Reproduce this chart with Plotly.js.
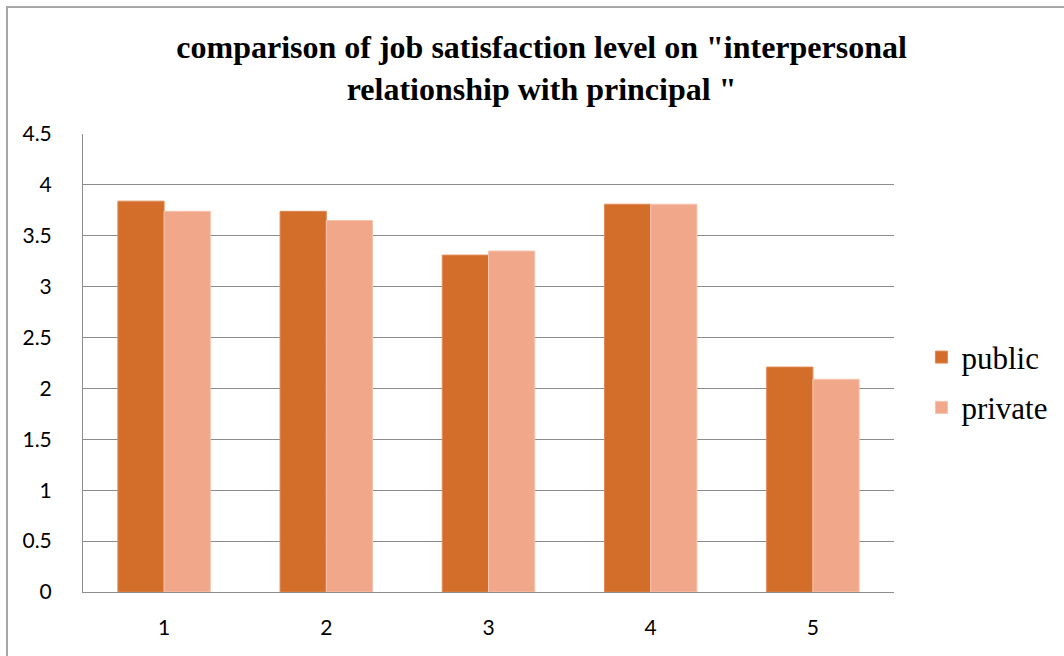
<!DOCTYPE html>
<html>
<head>
<meta charset="utf-8">
<script src="https://cdn.plot.ly/plotly-3.0.1.min.js"></script>
<style>
html,body{margin:0;padding:0;background:#fff;}
#chart{width:1064px;height:656px;position:absolute;left:0;top:0;}
#frame{position:absolute;left:6px;top:6px;width:1100px;height:700px;border-left:2px solid #a6a6a6;border-top:2px solid #a6a6a6;pointer-events:none;}
</style>
</head>
<body>
<div id="chart"></div>
<div id="frame"></div>
<script>
const categories = ["1", "2", "3", "4", "5"];
const publicValues = [3.84, 3.74, 3.31, 3.81, 2.21];
const privateValues = [3.74, 3.65, 3.35, 3.81, 2.09];
const seriesNames = ["public", "private"];
const titleText = 'comparison of job satisfaction level on "interpersonal<br>relationship with principal "';

const data = [
  {type: 'bar', name: seriesNames[0], x: categories, y: publicValues, legendgroup: 'a',
   marker: {color: '#d26d2a', line: {color: '#e08a55', width: 1}}},
  {type: 'bar', name: seriesNames[1], x: categories, y: privateValues, legendgroup: 'b',
   marker: {color: '#f1a78a', line: {color: '#f6c3ad', width: 1}}}
];

const layout = {
  width: 1064, height: 656,
  paper_bgcolor: 'rgba(0,0,0,0)', plot_bgcolor: '#fff',
  margin: {l: 83, r: 170, t: 134, b: 64},
  title: {text: titleText, x: 0.509, xanchor: 'center', y: 0.911, yanchor: 'middle',
          font: {family: 'Liberation Serif, Times New Roman, serif', size: 32, color: '#000', weight: 'bold'}},
  barmode: 'group', bargap: 0.43, bargroupgap: 0,
  showlegend: true,
  legend: {xref: 'container', yref: 'container', x: 0.866, y: 0.417, xanchor: 'left', yanchor: 'middle',
           font: {family: 'Liberation Serif, Times New Roman, serif', size: 31, color: '#000'},
           tracegroupgap: 7, itemwidth: 30, bgcolor: 'rgba(0,0,0,0)'},
  xaxis: {type: 'category', showgrid: false, showline: true, linecolor: '#8c8c8c', linewidth: 1,
          ticks: '', tickfont: {family: 'Lato, Open Sans, sans-serif', size: 21, color: '#000'},
          ticklabelstandoff: 17},
  yaxis: {range: [0, 4.5], dtick: 0.5, tick0: 0, showgrid: true, gridcolor: '#8c8c8c', gridwidth: 1,
          showline: true, linecolor: '#8c8c8c', linewidth: 1, zeroline: false,
          ticks: '', tickfont: {family: 'Lato, Open Sans, sans-serif', size: 21, color: '#000'},
          ticklabelstandoff: 26}
};

Plotly.newPlot('chart', data, layout, {displayModeBar: false, staticPlot: true});
</script>
</body>
</html>
